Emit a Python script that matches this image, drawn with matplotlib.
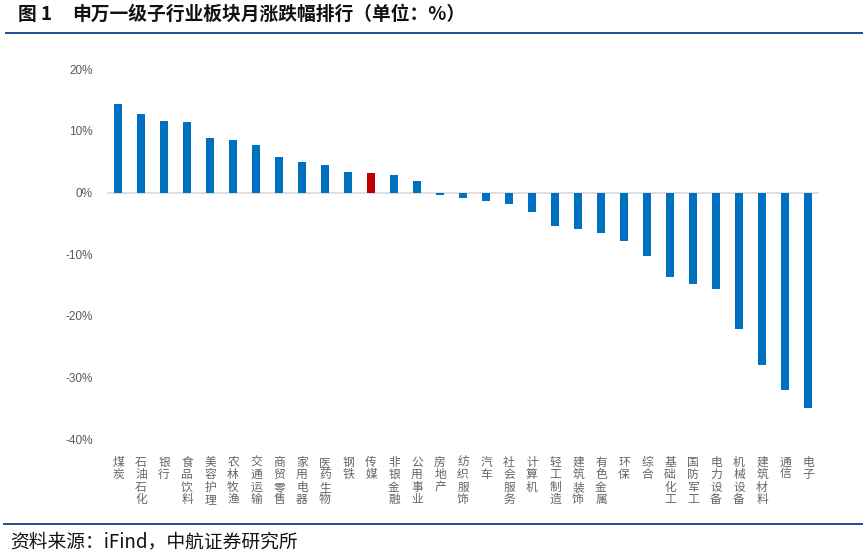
import matplotlib
matplotlib.use("Agg")
from matplotlib import pyplot as plt
from matplotlib.lines import Line2D
from matplotlib.ticker import FuncFormatter
import numpy as np

plt.rcParams['font.family'] = ['Noto Sans CJK SC', 'DejaVu Sans']

# 申万一级行业 月涨跌幅 (%)
industries = ['煤炭', '石油石化', '银行', '食品饮料', '美容护理', '农林牧渔', '交通运输',
              '商贸零售', '家用电器', '医药生物', '钢铁', '传媒', '非银金融', '公用事业',
              '房地产', '纺织服饰', '汽车', '社会服务', '计算机', '轻工制造', '建筑装饰',
              '有色金属', '环保', '综合', '基础化工', '国防军工', '电力设备', '机械设备',
              '建筑材料', '通信', '电子']
changes = [14.35, 12.7, 11.6, 11.4, 8.8, 8.5, 7.7,
           5.8, 4.9, 4.5, 3.3, 3.1, 2.8, 1.85,
           -0.35, -0.85, -1.3, -1.9, -3.15, -5.4, -5.9,
           -6.5, -7.8, -10.35, -13.7, -14.8, -15.7, -22.1,
           -28.0, -32.0, -34.9]
highlight = '传媒'

W, H = 868, 552
fig = plt.figure(figsize=(W / 100, H / 100), dpi=100)

ax = fig.add_axes([106.5 / W, 1 - 439 / H, (819.5 - 106.5) / W, (439 - 69.3) / H])
x = np.arange(len(industries))
colors = ['#C00000' if name == highlight else '#0070C0' for name in industries]
ax.bar(x, changes, width=0.32, color=colors, zorder=2)
ax.axhline(0, color='#D9D9D9', lw=1.2, zorder=1)

ax.set_xlim(-0.5, len(industries) - 0.5)
ax.set_ylim(-40, 20)
ax.set_yticks([-40, -30, -20, -10, 0, 10, 20])
ax.yaxis.set_major_formatter(FuncFormatter(lambda v, p: '%d%%' % v))
for lab in ax.get_yticklabels():
    lab.set_family(['Liberation Sans', 'DejaVu Sans'])
ax.tick_params(axis='y', length=0, pad=10, labelsize=8.5, labelcolor='#595959')

# vertical labels, one upright character per line
ax.set_xticks(x)
ax.set_xticklabels(['\n'.join(name) for name in industries], fontsize=8.5,
                   color='#666666', linespacing=0.95)
ax.tick_params(axis='x', length=0, pad=12)

for s in ax.spines.values():
    s.set_visible(False)

# title and source
fig.text(18 / W, 1 - 14 / H, '图 1', fontsize=13.5, fontweight='bold', va='center', color='#111111')
fig.text(72 / W, 1 - 14 / H, '申万一级子行业板块月涨跌幅排行（单位：%）', fontsize=13.5,
         fontweight='bold', va='center', color='#111111')
fig.add_artist(Line2D([6 / W, 862 / W], [1 - 33 / H, 1 - 33 / H], color='#1F4E8F', lw=1.4))
fig.add_artist(Line2D([4 / W, 862 / W], [1 - 524 / H, 1 - 524 / H], color='#1F4E8F', lw=1.4))
fig.text(10 / W, 1 - 542 / H, '资料来源：iFind，中航证券研究所', fontsize=13.5, va='center',
         color='#111111')

fig.savefig('out.png', dpi=100)
